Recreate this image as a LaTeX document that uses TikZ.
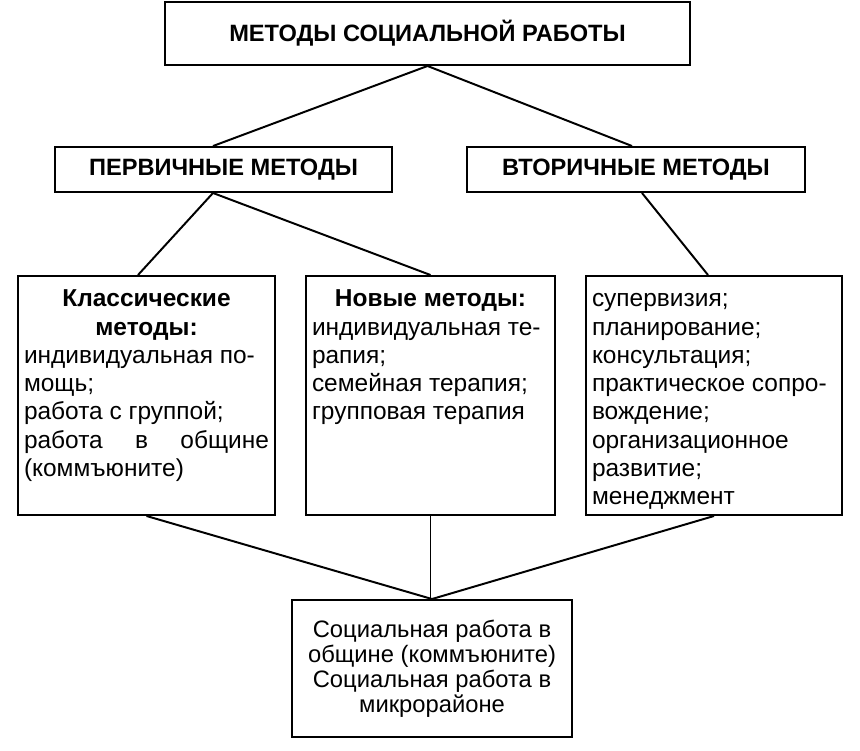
\documentclass[tikz,border=0pt]{standalone}
\usepackage{fontspec}
\setmainfont{Liberation Sans}
\usepackage{tikz}
\newlength\px
\setlength\px{0.025cm}

\begin{document}
\begin{tikzpicture}[x=0.025cm, y=-0.025cm, line width=1.4pt,
	headbox/.style={draw, inner sep=0pt, font=\fontsize{16.8pt}{20pt}\selectfont\bfseries},
	listbox/.style={draw, inner xsep=6\px, inner ysep=11\px, font=\fontsize{17.4pt}{20.1pt}\selectfont},
	sumbox/.style={draw, align=center, inner sep=0pt, font=\fontsize{16.9pt}{17.9pt}\selectfont}]
	\useasboundingbox (0,0) rectangle (860,750);
	
	\node[headbox, minimum width=525\px, minimum height=63\px] (metody) at (427.5,33.5) {МЕТОДЫ СОЦИАЛЬНОЙ РАБОТЫ};
	\node[headbox, minimum width=337\px, minimum height=45\px] (perv) at (223.5,169.5) {ПЕРВИЧНЫЕ МЕТОДЫ};
	\node[headbox, minimum width=338\px, minimum height=45\px] (vtor) at (636,169.5) {ВТОРИЧНЫЕ МЕТОДЫ};
	
	%-------------------------------------
	\node[listbox] (klass) at (146.5,395.5) {\parbox[t][217\px][t]{245\px}{%
		\strut\makebox[\linewidth]{\bfseries Классические}\\
		\makebox[\linewidth]{\bfseries методы:}\\
		индивидуальная по-\\
		мощь;\\
		работа с группой;\\
		\makebox[\linewidth][s]{работа в общине}\\
		(коммъюните)}};
	\node[listbox] (novye) at (430.5,395.5) {\parbox[t][217\px][t]{237\px}{%
		\strut\makebox[\linewidth]{\bfseries Новые методы:}\\
		индивидуальная те-\\
		рапия;\\
		семейная терапия;\\
		групповая терапия}};
	\node[listbox] (vtorsp) at (714,395.5) {\parbox[t][217\px][t]{244\px}{%
		\strut супервизия;\\
		планирование;\\
		консультация;\\
		практическое сопро-\\
		вождение;\\
		организационное\\
		развитие;\\
		менеджмент}};
	
	\node[sumbox, minimum width=280\px, minimum height=137\px] (itog) at (432,668.5) {Социальная работа в\\общине (коммъюните)\\Социальная работа в\\микрорайоне};
	
	%-------------------------------------
	\draw (metody.south) -- ([xshift=-10.5\px]perv.north);
	\draw (metody.south) -- ([xshift=-4\px]vtor.north);
	\draw ([xshift=-10.5\px]perv.south) -- ([xshift=-8.5\px]klass.north);
	\draw ([xshift=-10.5\px]perv.south) -- (novye.north);
	\draw ([xshift=6\px]vtor.south) -- ([xshift=-6\px]vtorsp.north);
	
	\draw (klass.south) -- (itog.north);
	\draw (novye.south) -- (novye.south |- itog.north);
	\draw (vtorsp.south) -- (itog.north);
	
\end{tikzpicture}
\end{document}
